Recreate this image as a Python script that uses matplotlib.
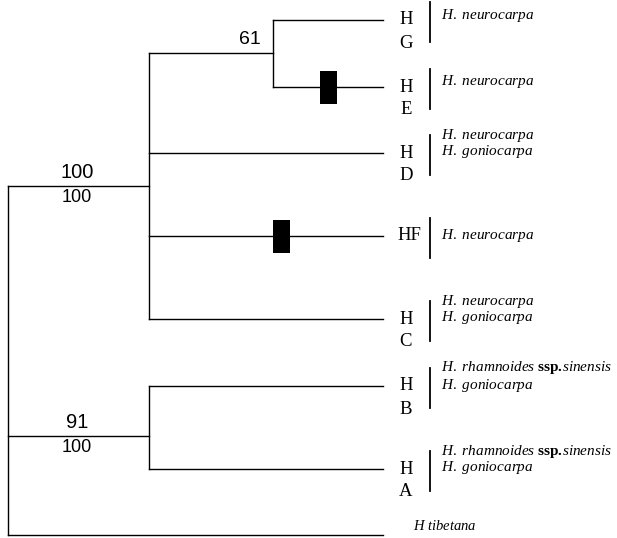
import matplotlib
matplotlib.use("Agg")
import matplotlib.pyplot as plt
from matplotlib.patches import Rectangle

# haplotype tips, top to bottom
tips = ['G', 'E', 'D', 'F', 'C', 'B', 'A', 'tibetana']
tip_y = [20, 87, 153, 236, 319, 386, 469, 535]
tip_x = 383

# internal nodes: x position, branch y, children
node_x = {'n61': 273, 'n100': 149, 'n91': 149, 'root': 8}
node_y = {'n61': 53, 'n100': 186, 'n91': 436}
children = {
    'n61': ['G', 'E'],
    'n100': ['n61', 'D', 'F', 'C'],
    'n91': ['B', 'A'],
    'root': ['n100', 'n91', 'tibetana'],
}

# bootstrap values (above / below branch)
support_top = {'n100': '100', 'n91': '91', 'n61': '61'}
support_bot = {'n100': '100', 'n91': '100'}

# mutations drawn as black boxes on tip branches (x position)
mutations = {'E': 328, 'F': 281}

hap_labels = {'G': 'G', 'E': 'E', 'D': 'D', 'F': 'F', 'C': 'C', 'B': 'B', 'A': 'A'}
species = {
    'G': ['H. neurocarpa'],
    'E': ['H. neurocarpa'],
    'D': ['H. neurocarpa', 'H. goniocarpa'],
    'F': ['H. neurocarpa'],
    'C': ['H. neurocarpa', 'H. goniocarpa'],
    'B': ['H. rhamnoides ssp.sinensis', 'H. goniocarpa'],
    'A': ['H. rhamnoides ssp.sinensis', 'H. goniocarpa'],
}

plt.rcParams['mathtext.fontset'] = 'custom'
plt.rcParams['mathtext.it'] = 'Liberation Serif:italic'
plt.rcParams['mathtext.bf'] = 'Liberation Serif:bold'
plt.rcParams['mathtext.rm'] = 'Liberation Serif'

fig = plt.figure(figsize=(6.17, 5.38), dpi=100)
ax = fig.add_axes([0, 0, 1, 1])
ax.set_xlim(0, 617)
ax.set_ylim(538, 0)
ax.axis('off')

ypos = dict(zip(tips, tip_y))
ypos.update(node_y)
lw = 1.0


def draw(node):
    x = node_x[node]
    kids = children[node]
    ys = []
    for k in kids:
        ky = ypos[k]
        ys.append(ky)
        if k in children:
            ax.plot([x, node_x[k]], [ky, ky], color='black', lw=lw)
            draw(k)
        else:
            ax.plot([x, tip_x], [ky, ky], color='black', lw=lw)
    ax.plot([x, x], [min(ys), max(ys)], color='black', lw=lw)


draw('root')

# support values
for n, s in support_top.items():
    if n == 'n61':
        ax.text(node_x[n] - 23, node_y[n] - 5, s, ha='center', va='bottom',
                fontsize=14, family='Liberation Sans')
    else:
        ax.text(77, node_y[n] - 4, s, ha='center', va='bottom',
                fontsize=14.5, family='Liberation Sans')
for n, s in support_bot.items():
    ax.text(77, node_y[n] + 3, s, ha='center', va='top',
            fontsize=13, family='Liberation Sans')

# mutation boxes
for t, mx in mutations.items():
    ax.add_patch(Rectangle((mx - 8.5, ypos[t] - 16.5), 17, 33,
                           facecolor='black', edgecolor='none'))


def species_math(s):
    if 'ssp' in s:
        a, b = s.split(' ssp.')
        return (r'$\mathit{' + a.replace(' ', r'\ ') + r'}\ \mathbf{ssp.}\!\mathit{'
                + b + '}$')
    return r'$\mathit{' + s.replace(' ', r'\ ') + '}$'


for t in tips[:-1]:
    y = ypos[t]
    if t == 'F':
        ax.text(397, y, 'H' + hap_labels[t], ha='left', va='center',
                fontsize=13.5, family='Liberation Serif')
    else:
        ax.text(406, y, 'H', ha='center', va='center',
                fontsize=13.5, family='Liberation Serif')
        ax.text(406, y + 23, hap_labels[t], ha='center', va='center',
                fontsize=13.5, family='Liberation Serif')
    ax.plot([430, 430], [y - 18, y + 22], color='black', lw=1.3)
    sp = species[t]
    if len(sp) == 1:
        dy = -1 if t == 'F' else -5
        ax.text(441, y + dy, species_math(sp[0]), ha='left', va='center', fontsize=11)
    else:
        ax.text(441, y - 18, species_math(sp[0]), ha='left', va='center', fontsize=11)
        ax.text(441, y - 1, species_math(sp[1]), ha='left', va='center', fontsize=11)

ax.text(413, ypos['tibetana'] - 10, r'$\mathit{H\ tibetana}$', ha='left',
        va='center', fontsize=10.5)

fig.savefig('out.png', dpi=100)
